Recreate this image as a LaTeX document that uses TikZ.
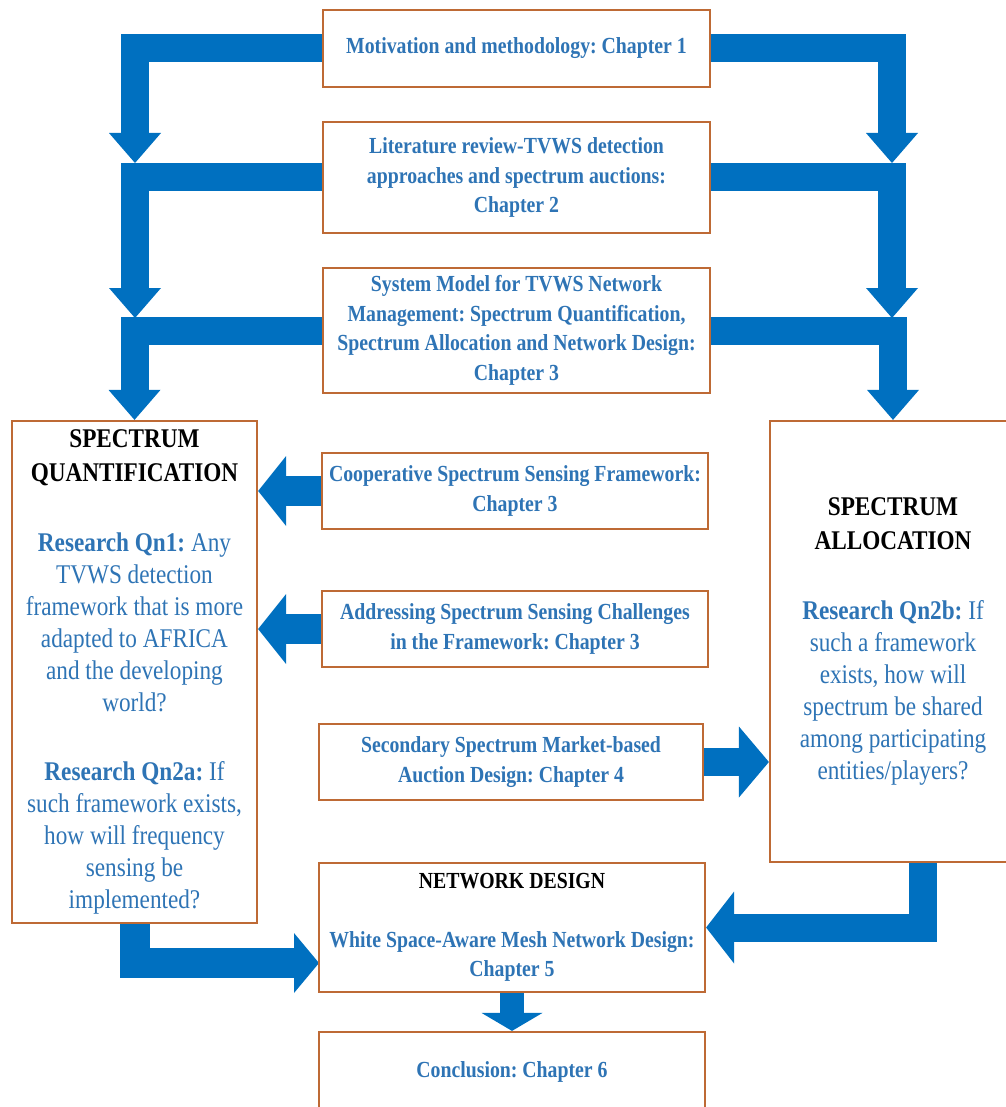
\documentclass[tikz,border=0pt]{standalone}
\usepackage{fontspec}
\setmainfont{Liberation Serif}[FakeStretch=0.86]
\usetikzlibrary{arrows.meta,backgrounds}
\definecolor{arrowblue}{HTML}{0070C0}
\definecolor{textblue}{HTML}{2E74B5}
\definecolor{frame}{HTML}{BE6A35}
\newcommand{\hd}[1]{\textcolor{black}{\textbf{#1}}}
\frenchspacing
\tikzset{
  box/.style={draw=frame, line width=2.2pt, fill=white, align=center, inner sep=0pt, text=textblue},
  chap/.style={box, font=\fontsize{23}{29.5}\selectfont\bfseries\frenchspacing},
  big/.style={box, font=\fontsize{27}{32}\selectfont\frenchspacing},
  flow/.style n args={3}{draw=arrowblue, line width=#1pt, line join=miter,
    -{Triangle[length=#2pt, width=#3pt, line width=0pt]}},
}
\begin{document}
\begin{tikzpicture}[x=1pt,y=-1pt]
\useasboundingbox (0,0) rectangle (1005,1107);

% chapter boxes in the middle column
\node[chap, minimum width=387pt, minimum height=77pt] (b1) at (516.5,48.5)
  {Motivation and methodology: Chapter 1};
\node[chap, minimum width=387pt, minimum height=111pt] (b2) at (516.5,177.5)
  {Literature review-TVWS detection\\approaches and spectrum auctions:\\Chapter 2};
\node[chap, minimum width=387pt, minimum height=125pt] (b3) at (516.5,330.5)
  {System Model for TVWS Network\\Management: Spectrum Quantification,\\Spectrum Allocation and Network Design:\\Chapter 3};
\node[chap, minimum width=386pt, minimum height=76pt] (coop) at (515,491)
  {Cooperative Spectrum Sensing Framework:\\Chapter 3};
\node[chap, minimum width=386pt, minimum height=76pt] (addr) at (515,629)
  {Addressing Spectrum Sensing Challenges\\in the Framework: Chapter 3};
\node[chap, minimum width=384pt, minimum height=76pt] (sec) at (511,762)
  {Secondary Spectrum Market-based\\Auction Design: Chapter 4};
\node[chap, minimum width=386pt, minimum height=129pt] (nd) at (512,927.5)
  {\hd{NETWORK DESIGN}\\[29.5pt]White Space-Aware Mesh Network Design:\\Chapter 5};
\node[chap, minimum width=386pt, minimum height=80pt] (conc) at (512,1072)
  {Conclusion: Chapter 6};

% research question boxes on both sides
\node[big, minimum width=245pt, minimum height=502pt] (sq) at (134.5,672)
  {\hd{SPECTRUM}\\[2pt]\hd{QUANTIFICATION}\\[38pt]
   \textbf{Research Qn1:} Any\\TVWS detection\\framework that is more\\adapted to AFRICA\\and the developing\\world?\\[37pt]
   \textbf{Research Qn2a:} If\\such framework exists,\\how will frequency\\sensing be\\implemented?};
\node[big, minimum width=246pt, minimum height=441pt] (sa) at (893,641.5)
  {\hd{SPECTRUM}\\[2pt]\hd{ALLOCATION}\\[38pt]
   \textbf{Research Qn2b:} If\\such a framework\\exists, how will\\spectrum be shared\\among participating\\entities/players?};

% bend points of the block arrows
\coordinate (lj1) at (135,163);
\coordinate (rj1) at (892,163);
\coordinate (lj2) at (135,318);
\coordinate (rj2) at (892,318);
\coordinate (saout) at (923,862);
\coordinate (ndin) at (319,963);

\begin{scope}[on background layer]
  \draw[flow={28}{30}{52}] (b1.west) -| (lj1);
  \draw[flow={28}{30}{52}] (b1.east) -| (rj1);
  \draw[flow={28}{30}{52}] (b2.west) -| (lj2);
  \draw[flow={28}{30}{52}] (b2.east) -| (rj2);
  \draw[flow={28}{30}{52}] (b3.west) -| (sq.north);
  \draw[flow={28}{30}{52}] (b3.east) -| (sa.north);
  \draw[flow={30}{28}{70}] (coop.west) -- (coop.west -| sq.east);
  \draw[flow={30}{28}{70}] (addr.west) -- (addr.west -| sq.east);
  \draw[flow={28}{30}{71}] (sec.east) -- (sec.east -| sa.west);
  \draw[flow={28}{28}{72}] (saout) |- (nd.east);
  \draw[flow={30}{25}{60}] (sq.south) |- (ndin);
  \draw[flow={24}{18}{61}] (nd.south) -- (conc.north);
\end{scope}
\end{tikzpicture}
\end{document}
